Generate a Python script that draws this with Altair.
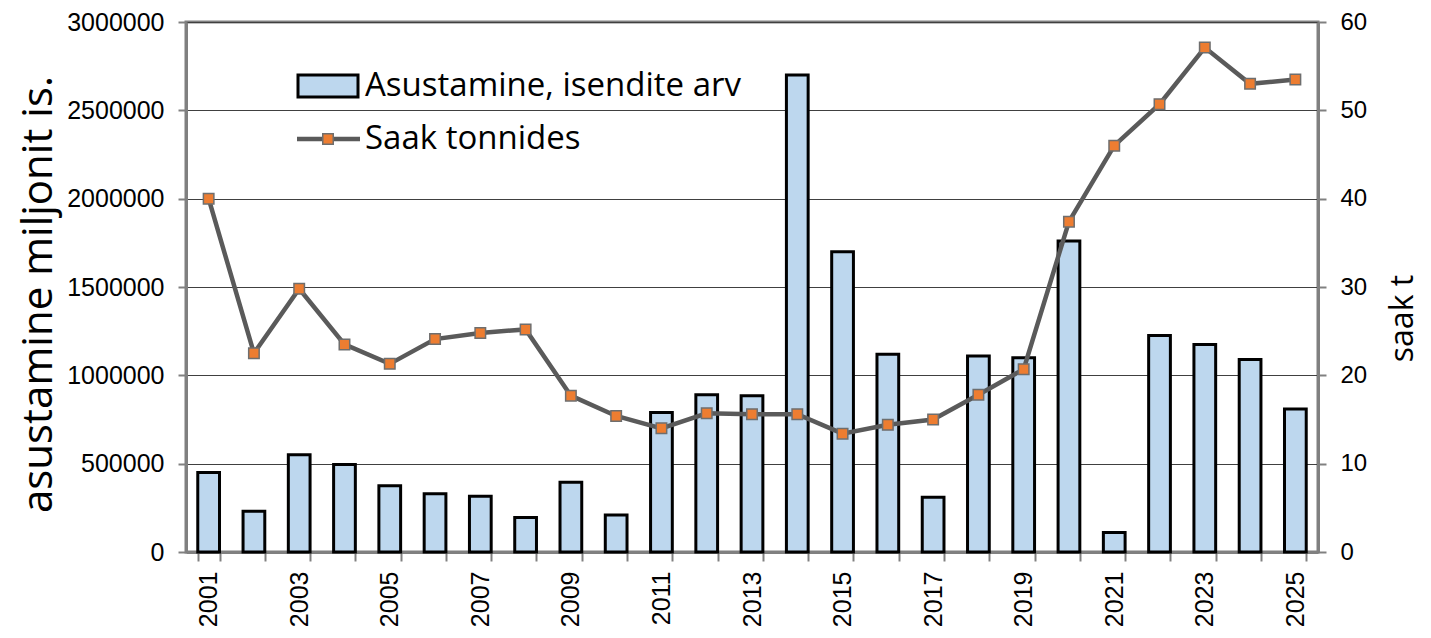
import altair as alt
import pandas as pd

years = [str(y) for y in range(2001, 2026)]
asustamine = [450000, 230000, 550000, 495000, 375000, 330000, 315000, 195000, 395000, 210000,
              790000, 890000, 885000, 2700000, 1700000, 1120000, 310000, 1110000, 1100000, 1760000,
              110000, 1225000, 1175000, 1090000, 810000]
saak = [40.0, 22.5, 29.8, 23.5, 21.3, 24.1, 24.8, 25.2, 17.7, 15.4, 14.0, 15.7, 15.6, 15.6,
        13.4, 14.4, 15.0, 17.8, 20.7, 37.4, 46.0, 50.7, 57.1, 53.0, 53.5]
legend_labels = ["Asustamine, isendite arv", "Saak tonnides"]
left_title = "asustamine miljonit is."
right_title = "saak t"

df = pd.DataFrame({"year": years, "asustamine": asustamine, "saak": saak})

W, H = 1132, 530
GRAY = "#808080"

x_enc = alt.X(
    "year:O",
    scale=alt.Scale(paddingInner=0.52, paddingOuter=0.26),
    axis=alt.Axis(
        title=None,
        labelAngle=270,
        labelExpr="toNumber(datum.value) % 2 == 1 ? datum.label : ''",
        labelFont="Liberation Sans",
        labelFontSize=25,
        labelColor="black",
        labelPadding=10,
        tickBand="extent",
        tickSize=9,
        tickColor=GRAY,
        tickWidth=2,
        domainColor=GRAY,
        domainWidth=3,
        grid=False,
    ),
)

bars = alt.Chart(df).mark_bar(
    fill="#bdd7ee", stroke="black", strokeWidth=3
).encode(
    x=x_enc,
    y=alt.Y(
        "asustamine:Q",
        scale=alt.Scale(domain=[0, 3000000], nice=False),
        axis=alt.Axis(
            values=list(range(0, 3000001, 500000)),
            format="d",
            title=left_title,
            titleFont="Open Sans",
            titleFontSize=42,
            titleFontWeight="normal",
            titleColor="black",
            titleAngle=270,
            titleX=-148,
            titleY=272,
            titleAlign="center",
            titleBaseline="middle",
            labelFont="Liberation Sans",
            labelFontSize=25,
            labelColor="black",
            labelPadding=14,
            tickSize=8,
            tickColor=GRAY,
            tickWidth=2,
            domainColor=GRAY,
            domainWidth=3,
            grid=True,
            gridColor="#404040",
            gridWidth=1,
        ),
    ),
)

line = alt.Chart(df).mark_line(
    color="#5a5a5a", strokeWidth=4.5,
    point=alt.OverlayMarkDef(shape="square", size=110, filled=True, fill="#ed7d31",
                             stroke="#6e6e6e", strokeWidth=1.5),
).encode(
    x=alt.X("year:O"),
    y=alt.Y(
        "saak:Q",
        scale=alt.Scale(domain=[0, 60], nice=False),
        axis=alt.Axis(
            orient="right",
            values=list(range(0, 61, 10)),
            title=right_title,
            titleFont="Open Sans",
            titleFontSize=32,
            titleFontWeight="normal",
            titleColor="black",
            titleAngle=270,
            titleX=84,
            titleY=296,
            titleAlign="center",
            titleBaseline="middle",
            labelFont="Liberation Sans",
            labelFontSize=24,
            labelColor="black",
            labelPadding=14,
            tickSize=8,
            tickColor=GRAY,
            tickWidth=2,
            domainColor=GRAY,
            domainWidth=3,
            grid=False,
        ),
    ),
)

one = pd.DataFrame({"a": [0]})

leg_rect = alt.Chart(one).mark_rect(fill="#bdd7ee", stroke="black", strokeWidth=3).encode(
    x=alt.value(112), x2=alt.value(172), y=alt.value(53), y2=alt.value(75)
)
leg_line = alt.Chart(one).mark_rule(color="#5a5a5a", strokeWidth=4.5).encode(
    x=alt.value(111), x2=alt.value(174), y=alt.value(117)
)
leg_pt = alt.Chart(one).mark_point(shape="square", size=110, filled=True, fill="#ed7d31",
                                   stroke="#6e6e6e", strokeWidth=1.5, opacity=1).encode(
    x=alt.value(142), y=alt.value(117)
)
leg_t1 = alt.Chart(one).mark_text(text=legend_labels[0], font="Open Sans", fontSize=33,
                                  align="left", baseline="middle", color="black").encode(
    x=alt.value(179), y=alt.value(64)
)
leg_t2 = alt.Chart(one).mark_text(text=legend_labels[1], font="Open Sans", fontSize=33,
                                  align="left", baseline="middle", color="black").encode(
    x=alt.value(179), y=alt.value(117)
)

chart = alt.layer(bars, line, leg_rect, leg_line, leg_pt, leg_t1, leg_t2).resolve_scale(
    y="independent"
).properties(
    width=W, height=H,
    autosize=alt.AutoSizeParams(type="none"),
    padding={"left": 178, "top": 14, "right": 105, "bottom": 78},
).configure_view(stroke=GRAY, strokeWidth=3)

chart.save("out.html", embed_options={"renderer": "svg", "actions": False})
